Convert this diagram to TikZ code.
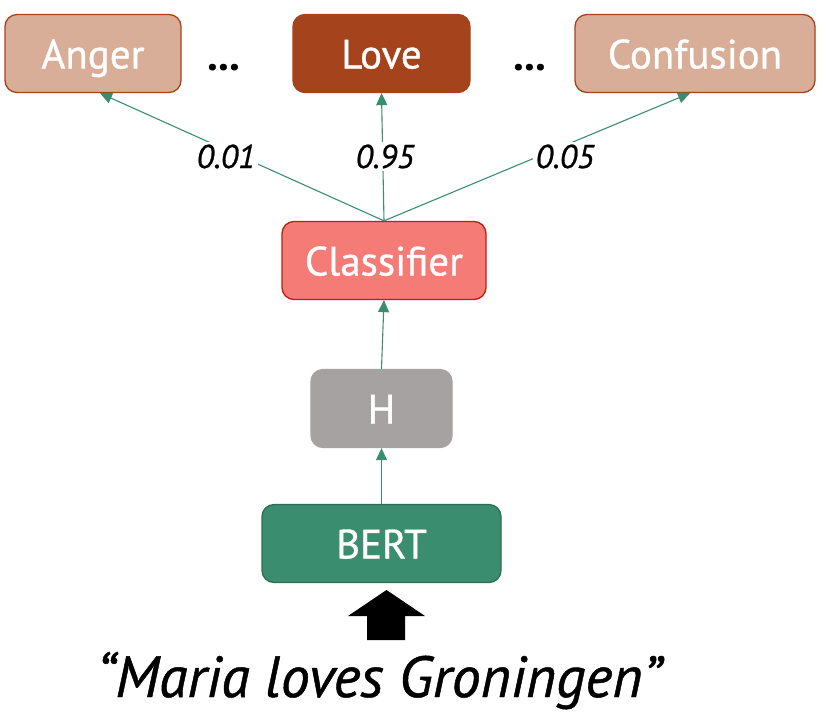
\documentclass[tikz,border=0pt]{standalone}
\usepackage{fontspec}
\setmainfont{PT Sans}
\newfontfamily\boxfont{PT Sans}[FakeBold=0.8]
\usetikzlibrary{arrows.meta,positioning}
\definecolor{rust}{HTML}{A5441C}
\definecolor{peach}{HTML}{D9AE98}
\definecolor{salmon}{HTML}{F47B76}
\definecolor{brick}{HTML}{B8200F}
\definecolor{stone}{HTML}{A6A2A1}
\definecolor{bertgreen}{HTML}{3A8D6E}
\definecolor{darkgreen}{HTML}{2D6E55}

\begin{document}
\begin{tikzpicture}[
      x=1pt, y=-1pt,
      box/.style={rounded corners=12pt, line width=1.3pt, text=white,
        font=\boxfont\fontsize{41}{44}\selectfont, inner sep=0pt, minimum height=78pt,
        text height=30pt, text depth=0pt},
      emotion/.style={box, draw=rust, fill=peach},
      picked/.style={box, draw=rust, fill=rust},
      flow/.style={-{Triangle[length=12pt, width=11pt]}, line width=1.1pt, draw=bertgreen},
      prob/.style={font=\boxfont\fontsize{33}{36}\selectfont\itshape, fill=white,
        inner sep=3pt, anchor=base},
      dots/.style={font=\fontsize{44}{44}\selectfont\bfseries},
    ]
    \useasboundingbox (0,0) rectangle (827,721);

    % Output emotions
    \node[emotion, minimum width=176pt] (anger) at (93, 53.5) {Anger};
    \node[picked, minimum width=177pt] (love) at (381.5, 53.5) {Love};
    \node[emotion, minimum width=240pt] (confusion) at (695, 53.5) {Confusion};
    \node[dots, anchor=base] (dotsl) at (224, 70) {...};
    \node[dots, anchor=base] (dotsr) at (530, 70) {...};

    % Model stack
    \node[box, draw=brick, fill=salmon, minimum width=204pt] (clf) at (384, 260.5) {Classifier};
    \node[box, draw=stone, fill=stone, minimum width=141pt] (h) at (381.5, 408.5) {H};
    \node[box, draw=darkgreen, fill=bertgreen, minimum width=239pt] (bert) at (381.5, 543.5) {BERT};

    % Connections
    \coordinate (top) at (clf.north);
    \draw[flow] (top) -- (anger.south -| 100,0);
    \draw[flow] (top) -- (love.south);
    \draw[flow] (top) -- (confusion.south -| 690,0);
    \draw[flow] (h.north) -- (clf.south);
    \draw[flow] (bert.north) -- (h.south);

    % Probabilities
    \node[prob] (p1) at (226, 168) {0.01};
    \node[prob] (p2) at (385, 168) {0.95};
    \node[prob] (p3) at (565, 168) {0.05};

    % Input sentence
    \fill (367,640) -- (367,616) -- (348,616) -- (386.5,590) -- (425,616)
      -- (405,616) -- (405,640) -- cycle;
    \node[font=\boxfont\fontsize{58}{60}\selectfont\itshape, anchor=base] (input) at (379, 697)
      {“Maria loves Groningen”};
  \end{tikzpicture}
\end{document}
